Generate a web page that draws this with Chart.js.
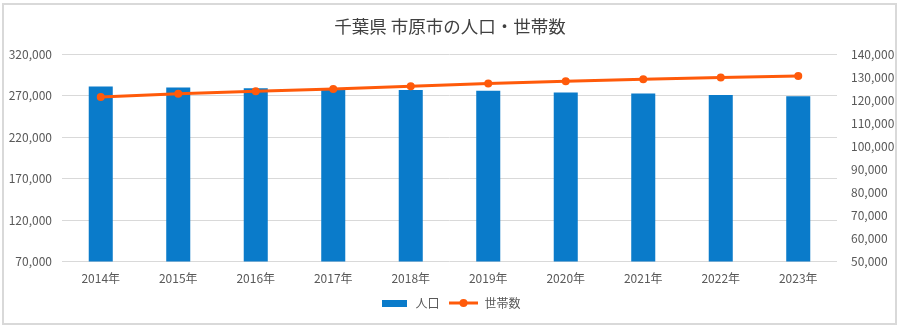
<!DOCTYPE html>
<html lang="ja">
<head>
<meta charset="utf-8">
<title>千葉県 市原市の人口・世帯数</title>
<script src="https://cdn.jsdelivr.net/npm/chart.js@4"></script>
<style>
    html, body { margin: 0; padding: 0; background: #fff; }
    .wrap { position: relative; width: 900px; height: 328px; }
    .wrap canvas { position: absolute; left: 0; top: 0; }
    .frame {
        position: absolute; left: 2px; top: 3px; width: 895px; height: 322px;
        box-sizing: border-box; border: 2px solid #d9d9d9; pointer-events: none;
    }
</style>
</head>
<body>
<div class="wrap">
    <canvas id="popChart" width="900" height="328"></canvas>
    <div class="frame"></div>
</div>
<script>
// Data
const years = ['2014年', '2015年', '2016年', '2017年', '2018年', '2019年', '2020年', '2021年', '2022年', '2023年'];
const population = [280800, 279600, 278700, 277500, 276700, 275700, 273500, 272300, 270600, 269000];
const households = [121400, 122800, 123800, 124800, 126000, 127200, 128200, 129000, 129800, 130500];

const barColor = '#0a7bca';
const lineColor = '#ff5a0a';
const textColor = '#595959';
const gridColor = '#d9d9d9';
const fontFamily = '"Noto Sans CJK JP", "Noto Sans", sans-serif';

// Small legend markers: flat bar and line with dot
function makeBarMarker() {
    const c = document.createElement('canvas');
    c.width = 25; c.height = 7;
    const g = c.getContext('2d');
    g.fillStyle = barColor;
    g.fillRect(0, 0, 25, 7);
    return c;
}

function makeLineMarker() {
    const c = document.createElement('canvas');
    c.width = 29; c.height = 10;
    const g = c.getContext('2d');
    g.strokeStyle = lineColor;
    g.lineWidth = 3;
    g.beginPath();
    g.moveTo(0, 5);
    g.lineTo(29, 5);
    g.stroke();
    g.fillStyle = lineColor;
    g.beginPath();
    g.arc(14.5, 5, 4, 0, Math.PI * 2);
    g.fill();
    return c;
}

const barMarker = makeBarMarker();
const lineMarker = makeLineMarker();

function fmt(v) {
    return v.toLocaleString('en-US');
}

const ctx = document.getElementById('popChart');
const popChart = new Chart(ctx.getContext('2d'), {
    type: 'bar',
    data: {
        labels: years,
        datasets: [{
            type: 'bar',
            label: '人口',
            data: population,
            backgroundColor: barColor,
            yAxisID: 'y',
            barPercentage: 0.31,
            categoryPercentage: 1,
            order: 2
        }, {
            type: 'line',
            label: '世帯数',
            data: households,
            borderColor: lineColor,
            backgroundColor: lineColor,
            borderWidth: 3,
            pointRadius: 4,
            pointBorderWidth: 0,
            yAxisID: 'y1',
            order: 1
        }]
    },
    options: {
        responsive: false,
        animation: false,
        layout: { padding: { left: 0, right: 0, top: 0, bottom: 9 } },
        plugins: {
            title: {
                display: true,
                text: '千葉県 市原市の人口・世帯数',
                color: '#404040',
                font: { family: fontFamily, size: 17.5, weight: 'normal' },
                padding: { top: 16, bottom: 17 }
            },
            legend: {
                position: 'bottom',
                labels: {
                    color: textColor,
                    font: { family: fontFamily, size: 12 },
                    usePointStyle: true,
                    pointStyleWidth: 30,
                    padding: 9,
                    generateLabels(chart) {
                        return [
                            { text: '人口', pointStyle: barMarker, fontColor: textColor, datasetIndex: 0, lineWidth: 0 },
                            { text: '世帯数', pointStyle: lineMarker, fontColor: textColor, datasetIndex: 1, lineWidth: 0 }
                        ];
                    }
                }
            },
            tooltip: { enabled: false }
        },
        scales: {
            x: {
                offset: true,
                grid: { display: false },
                border: { display: false },
                ticks: {
                    color: textColor,
                    font: { family: fontFamily, size: 12 },
                    padding: 2,
                    maxRotation: 0
                }
            },
            y: {
                position: 'left',
                min: 70000,
                max: 320000,
                grid: { color: gridColor, drawTicks: false },
                border: { display: false },
                ticks: {
                    stepSize: 50000,
                    color: textColor,
                    font: { family: fontFamily, size: 12 },
                    padding: 10,
                    callback: fmt
                },
                afterFit(scale) { scale.width = 62; }
            },
            y1: {
                position: 'right',
                min: 50000,
                max: 140000,
                grid: { display: false, drawTicks: false },
                border: { display: false },
                ticks: {
                    stepSize: 10000,
                    color: textColor,
                    font: { family: fontFamily, size: 12 },
                    padding: 14,
                    callback: fmt
                },
                afterFit(scale) { scale.width = 63; }
            }
        }
    }
});
</script>
</body>
</html>
